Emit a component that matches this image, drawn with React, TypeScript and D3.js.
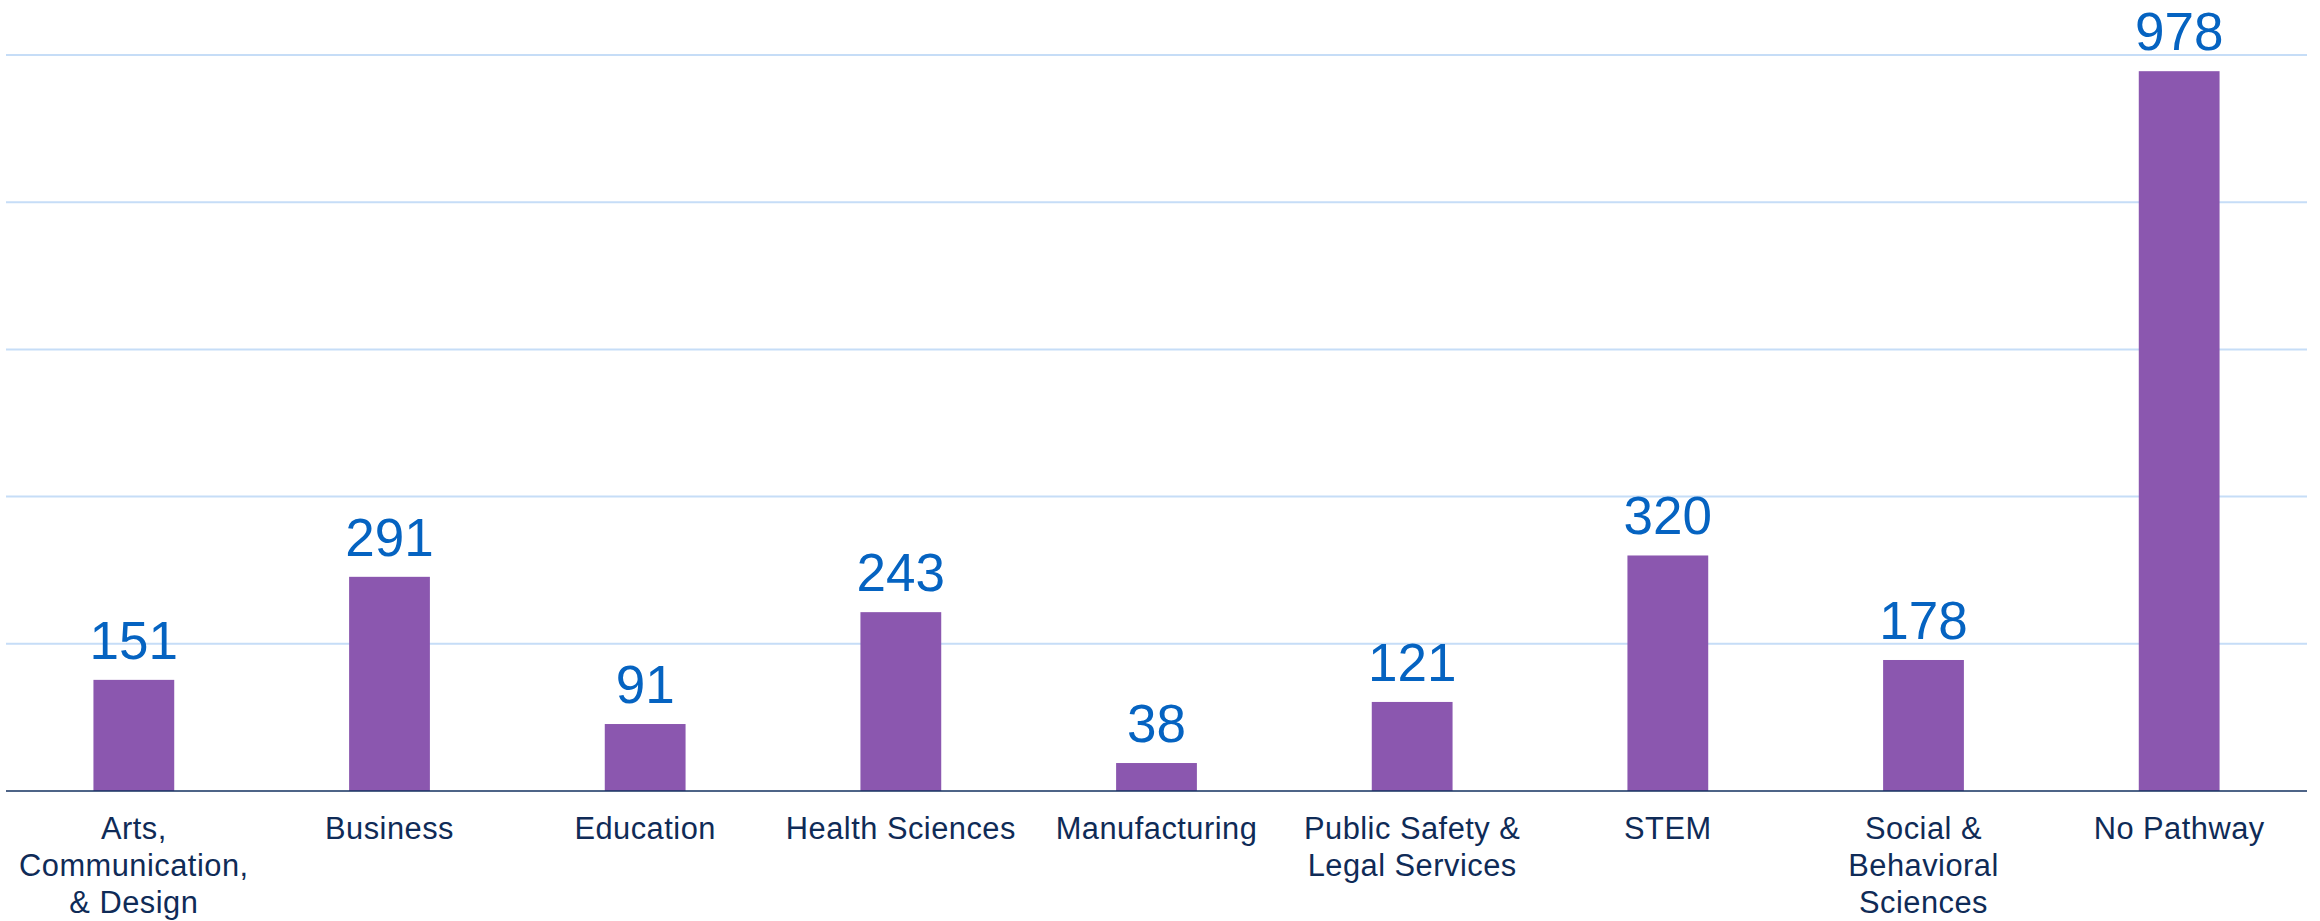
import React from "react";
import * as d3 from "d3";

const categories: string[][] = [
  ["Arts,", "Communication,", "& Design"],
  ["Business"],
  ["Education"],
  ["Health Sciences"],
  ["Manufacturing"],
  ["Public Safety &", "Legal Services"],
  ["STEM"],
  ["Social &", "Behavioral", "Sciences"],
  ["No Pathway"],
];
const values: number[] = [151, 291, 91, 243, 38, 121, 320, 178, 978];
const yTicks: number[] = [200, 400, 600, 800, 1000];

const W = 2320;
const H = 921;
const left = 6;
const right = 2307;
const baseY = 791;
const topY = 55;

export default function App() {
  const keys = categories.map((c) => c.join(" "));
  const x = d3.scaleBand<string>().domain(keys).range([left, right]).paddingInner(0.684).paddingOuter(0.342);
  const y = d3.scaleLinear().domain([0, 1000]).range([baseY, topY]);
  const font = "'Liberation Sans', Arial, sans-serif";
  return (
    <svg width={W} height={H} style={{ position: "absolute", left: 0, top: 0, background: "#fff" }}>
      {yTicks.map((t) => (
        <line key={t} x1={left} x2={right} y1={y(t)} y2={y(t)} stroke="#C6DDF7" strokeWidth={2} />
      ))}
      {values.map((v, i) => (
        <rect key={i} x={x(keys[i])!} y={y(v)} width={x.bandwidth()} height={y(0) - y(v)} fill="#8B57AF" />
      ))}
      <line x1={left} x2={right} y1={baseY} y2={baseY} stroke="#13305F" strokeWidth={1.6} />
      {values.map((v, i) => (
        <text
          key={"v" + i}
          x={x(keys[i])! + x.bandwidth() / 2}
          y={y(v) - 21}
          textAnchor="middle"
          fontFamily={font}
          fontSize={53}
          fill="#0563C1"
        >
          {v}
        </text>
      ))}
      {categories.map((lines, i) => (
        <text
          key={"c" + i}
          x={x(keys[i])! + x.bandwidth() / 2}
          y={baseY + 48}
          textAnchor="middle"
          fontFamily={font}
          fontSize={30.8}
          letterSpacing={0.5}
          fill="#0F2B57"
        >
          {lines.map((l, j) => (
            <tspan key={j} x={x(keys[i])! + x.bandwidth() / 2} dy={j === 0 ? 0 : 37}>
              {l}
            </tspan>
          ))}
        </text>
      ))}
    </svg>
  );
}
